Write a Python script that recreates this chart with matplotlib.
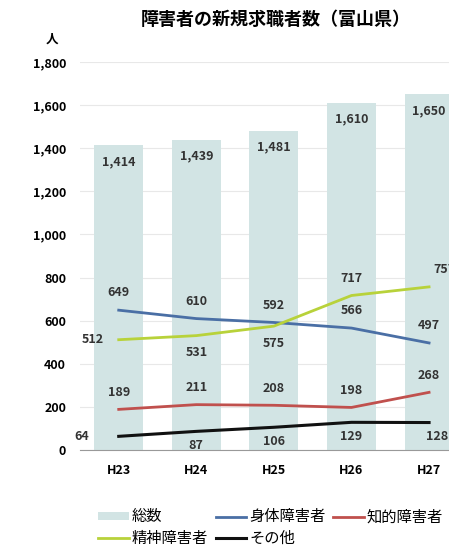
import matplotlib
matplotlib.use('Agg')
import matplotlib.pyplot as plt
import numpy as np

plt.rcParams['font.family'] = ['Noto Sans CJK JP', 'DejaVu Sans']

years = ['H23', 'H24', 'H25', 'H26', 'H27']
total = [1414, 1439, 1481, 1610, 1650]
physical = [649, 610, 592, 566, 497]
intellectual = [189, 211, 208, 198, 268]
mental = [512, 531, 575, 717, 757]
other = [64, 87, 106, 129, 128]

fig = plt.figure(figsize=(4.49, 5.53), dpi=100)
ax = fig.add_axes([0.178, 0.186, 0.864, 0.702])

x = np.arange(len(years))
h_tot = ax.bar(x, total, width=0.63, color='#d2e4e4', zorder=1, label='総数')
h_phys, = ax.plot(x, physical, color='#4a6fa5', lw=2, zorder=3, label='身体障害者')
h_int, = ax.plot(x, intellectual, color='#c0504d', lw=2, zorder=3, label='知的障害者')
h_men, = ax.plot(x, mental, color='#b8d23a', lw=2, zorder=3, label='精神障害者')
h_oth, = ax.plot(x, other, color='#111111', lw=2.2, zorder=4, label='その他')

lab = dict(fontsize=9, fontweight='bold', color='#333333', ha='center', va='center', zorder=5)
for i, v in enumerate(total):
    ax.text(i, v - 75, f'{v:,}', **lab)
# label offsets (dx, dy) in data units per series
off_phys = [(0, 80), (0, 80), (0, 80), (0, 80), (0, 80)]
off_mental = [(-0.33, 0), (0, -80), (0, -80), (0, 80), (0.2, 80)]
off_int = [(0, 80), (0, 80), (0, 80), (0, 80), (0, 80)]
off_other = [(-0.48, 0), (0, -65), (0, -65), (0, -65), (0.1, -65)]
for vals, offs in [(physical, off_phys), (mental, off_mental),
                   (intellectual, off_int), (other, off_other)]:
    for i, v in enumerate(vals):
        dx, dy = offs[i]
        ax.text(i + dx, v + dy, f'{v:,}', **lab)

ax.set_xlim(-0.5, len(years) - 0.5)
ax.set_ylim(0, 1800)
ax.set_yticks(np.arange(0, 1801, 200))
ax.set_yticklabels([f'{t:,}' for t in range(0, 1801, 200)], fontsize=9, fontweight='bold')
ax.set_xticks(x)
ax.set_xticklabels(years, fontsize=9, fontweight='bold')
ax.tick_params(length=0, pad=10)
ax.grid(axis='y', color='#e8e8e8', lw=0.8, zorder=0)
ax.set_axisbelow(True)
for s in ['top', 'right', 'left']:
    ax.spines[s].set_visible(False)
ax.spines['bottom'].set_color('#999999')

fig.text(0.115, 0.922, '人', fontsize=9, fontweight='bold', ha='center')
fig.text(0.615, 0.965, '障害者の新規求職者数（富山県）', fontsize=13, fontweight='bold', ha='center', va='center')

# order so rows read: 総数, 身体, 知的 / 精神, その他
handles = [h_tot, h_men, h_phys, h_oth, h_int]
fig.legend(handles, [h.get_label() for h in handles],
           loc='upper left', bbox_to_anchor=(0.195, 0.1), ncol=3, frameon=False,
           fontsize=11, handlelength=2.0, handleheight=0.5, columnspacing=0.5,
           handletextpad=0.2, labelspacing=0.3, borderpad=0.2)

fig.savefig('out.png', dpi=100)
